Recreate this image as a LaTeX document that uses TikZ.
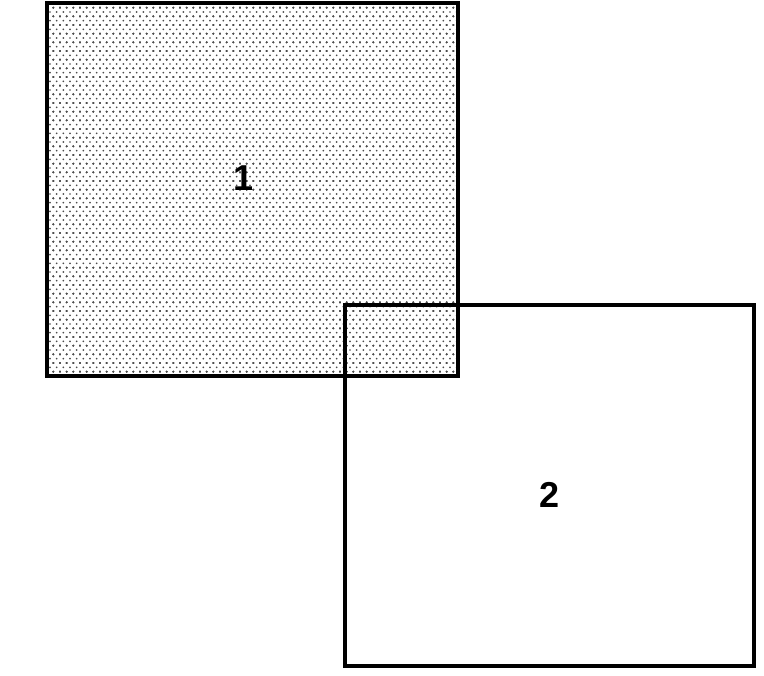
\documentclass[tikz,border=0pt]{standalone}
\usepackage{fontspec}
\setmainfont{Liberation Sans}
\usetikzlibrary{patterns}
\pgfdeclarepatternformonly{stagdots}{\pgfqpoint{-1pt}{-1pt}}{\pgfqpoint{6pt}{7.5pt}}{\pgfqpoint{5pt}{6.5pt}}{%
  \pgfpathcircle{\pgfqpoint{0pt}{0pt}}{0.7pt}%
  \pgfpathcircle{\pgfqpoint{5pt}{0pt}}{0.7pt}%
  \pgfpathcircle{\pgfqpoint{0pt}{6.5pt}}{0.7pt}%
  \pgfpathcircle{\pgfqpoint{5pt}{6.5pt}}{0.7pt}%
  \pgfpathcircle{\pgfqpoint{2.5pt}{3.25pt}}{0.7pt}%
  \pgfusepath{fill}}
\begin{document}
\begin{tikzpicture}[x=0.75pt,y=-0.75pt,
  box/.style={draw=black,line width=2.6pt},
  lbl/.style={font=\fontsize{27}{30}\selectfont\bfseries}]
\useasboundingbox (0,0) rectangle (764,675);
\fill[pattern=stagdots,pattern color=black!70] (47,3) rectangle (458,376);
\draw[box] (47,3) rectangle (458,376);
\draw[box] (345,305) rectangle (754,666);
\node[lbl] (n1) at (244,178) {1};
\node[lbl] (n2) at (550,495) {2};
\end{tikzpicture}
\end{document}
